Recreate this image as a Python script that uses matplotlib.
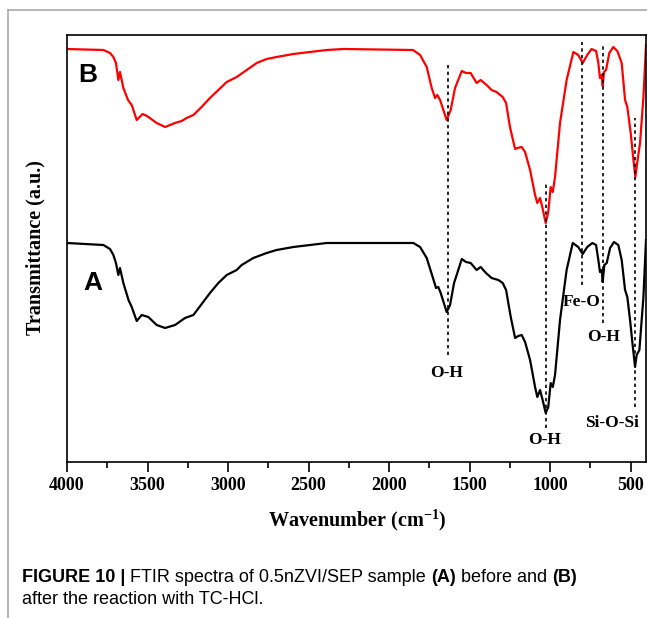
import matplotlib.pyplot as plt
from matplotlib.lines import Line2D
from matplotlib.ticker import MultipleLocator

plt.rcParams['mathtext.fontset'] = 'custom'
plt.rcParams['mathtext.bf'] = 'Liberation Serif:bold'
plt.rcParams['mathtext.rm'] = 'Liberation Serif:bold'

# spectrum B (after reaction, red) - wavenumber / transmittance (a.u.)
wn_b = [4000, 3774, 3733, 3712, 3696, 3681, 3671, 3650, 3621, 3598, 3567, 3530,
        3503, 3443, 3391, 3329, 3288, 3257, 3215, 3164, 3112, 3060, 3008, 2946,
        2884, 2822, 2760, 2698, 2594, 2491, 2387, 2284,
        1851, 1807, 1766, 1735, 1714, 1700, 1683, 1642, 1617, 1590, 1548, 1522,
        1493, 1456, 1431, 1394, 1363, 1332, 1294, 1273, 1249, 1217, 1203, 1176,
        1155, 1124, 1093, 1079, 1062, 1048, 1027, 1011, 996, 983, 969, 938, 897,
        855, 825, 797, 769, 742, 714, 700, 690, 679, 673, 665, 652, 632, 607,
        582, 555, 534, 520, 499, 482, 470, 458, 441, 420, 404]
t_b = [413, 412, 409, 405, 399, 382, 390, 374, 362, 357, 342, 348,
       346, 339, 335, 339, 341, 344, 347, 355, 364, 372, 380, 385,
       392, 399, 403, 405, 408, 410, 412, 413,
       412, 407, 395, 374, 364, 367, 362, 342, 352, 374, 391, 389,
       389, 379, 382, 377, 372, 370, 365, 359, 335, 313, 314, 315,
       310, 292, 267, 259, 264, 255, 239, 250, 275, 270, 285, 339, 382,
       410, 407, 399, 407, 413, 411, 399, 384, 387, 376, 390, 392, 409, 415,
       411, 399, 362, 355, 329, 302, 285, 300, 319, 365, 417]

# spectrum A (before reaction, black)
wn_a = [4000, 3774, 3733, 3712, 3696, 3681, 3671, 3650, 3618, 3598, 3567, 3536,
        3495, 3443, 3391, 3329, 3267, 3215, 3112, 3060, 3008, 2946, 2915, 2843,
        2760, 2698, 2594, 2491, 2387,
        1849, 1807, 1766, 1729, 1708, 1694, 1679, 1642, 1621, 1596, 1548, 1522,
        1493, 1456, 1431, 1398, 1363, 1321, 1294, 1273, 1244, 1217, 1197, 1176,
        1155, 1124, 1093, 1079, 1062, 1046, 1027, 1011, 996, 983, 969, 938, 897,
        859, 825, 797, 769, 737, 714, 700, 690, 679, 673, 663, 648, 627, 603,
        576, 555, 534, 520, 503, 487, 472, 462, 445, 420, 404]
t_a = [219, 217, 213, 207, 199, 187, 194, 179, 162, 155, 141, 147,
       145, 137, 134, 137, 144, 147, 169, 179, 187, 192, 197, 204,
       209, 212, 215, 217, 219,
       219, 215, 204, 185, 174, 175, 169, 150, 157, 179, 203, 200,
       199, 192, 195, 189, 184, 182, 179, 172, 145, 124, 126, 127,
       120, 102, 75, 65, 72, 62, 49, 55, 79, 75, 87, 142, 192,
       219, 215, 208, 215, 219, 217, 202, 190, 192, 180, 197, 199, 214, 220,
       217, 202, 172, 165, 142, 117, 95, 107, 112, 165, 222]

# band markers: position, line bottom, line top
band_wn = [1636, 1027, 800, 673, 472]
band_lo = [107, 34, 177, 139, 55]
band_hi = [397, 279, 420, 416, 344]

# band labels
lab_text = ['O-H', 'O-H', 'Fe-O', 'O-H', 'Si-O-Si']
lab_wn = [1640, 1031, 801, 665, 615]
lab_t = [89, 22, 160, 125, 39]

fig = plt.figure(figsize=(6.47, 6.18), dpi=100)
ax = fig.add_axes([67 / 647, 1 - 462 / 618, 579 / 647, 427 / 618])

ax.plot(wn_a, t_a, color='black', lw=1.6)
ax.plot(wn_b, t_b, color='red', lw=1.6)

for w, lo, hi in zip(band_wn, band_lo, band_hi):
    ax.plot([w, w], [lo, hi], color='black', ls=(0, (2, 2)), lw=1.2)

for s, w, t in zip(lab_text, lab_wn, lab_t):
    ax.text(w, t, s, ha='center', va='center', fontsize=12.5,
            fontweight='bold', family='Liberation Serif')

ax.text(3870, 387, 'B', ha='center', va='center', fontsize=19,
        fontweight='bold', family='Liberation Sans')
ax.text(3839, 179, 'A', ha='center', va='center', fontsize=19,
        fontweight='bold', family='Liberation Sans')

ax.set_xlim(4000, 404)
ax.set_ylim(0, 427)
ax.set_yticks([])
ax.xaxis.set_major_locator(MultipleLocator(500))
ax.xaxis.set_minor_locator(MultipleLocator(250))
ax.tick_params(axis='x', which='major', direction='out', length=7, width=1.2, pad=4)
ax.tick_params(axis='x', which='minor', direction='out', length=4, width=1.2)
for lbl in ax.get_xticklabels():
    lbl.set_fontfamily('Liberation Serif')
    lbl.set_fontweight('bold')
    lbl.set_fontsize(13)
for sp in ax.spines.values():
    sp.set_linewidth(1.2)

fig.text(357 / 647, 1 - 520 / 618, r'Wavenumber (cm$^{\mathbf{-1}}$)', ha='center',
         va='center', fontsize=14.5, fontweight='bold', family='Liberation Serif')
fig.text(35 / 647, 1 - 248 / 618, 'Transmittance (a.u.)', ha='center',
         va='center', rotation=90, fontsize=14.5, fontweight='bold',
         family='Liberation Serif')

# outer panel border
fig.add_artist(Line2D([8 / 647, 1], [1 - 10 / 618] * 2, color='#aaaaaa', lw=1.2))
fig.add_artist(Line2D([8 / 647] * 2, [0, 1 - 10 / 618], color='#aaaaaa', lw=1.2))

# caption, first line built from chained pieces (bold / normal)
cap1 = [('FIGURE 10 | ', 'bold'), ('FTIR spectra of 0.5nZVI/SEP sample ', 'normal'),
        ('(A)', 'bold'), (' before and ', 'normal'), ('(B)', 'bold')]
prev = fig.text(22 / 647, 1 - 577 / 618, cap1[0][0], fontsize=13, va='center',
                fontweight=cap1[0][1], family='Liberation Sans')
for s, w in cap1[1:]:
    prev = fig.add_artist(plt.Annotation(s, xy=(1, 0.5), xycoords=prev,
                                         va='center', fontsize=13, fontweight=w,
                                         family='Liberation Sans'))
fig.text(22 / 647, 1 - 600 / 618, 'after the reaction with TC-HCl.', fontsize=13,
         va='center', family='Liberation Sans')

fig.savefig('out.png', dpi=100)
